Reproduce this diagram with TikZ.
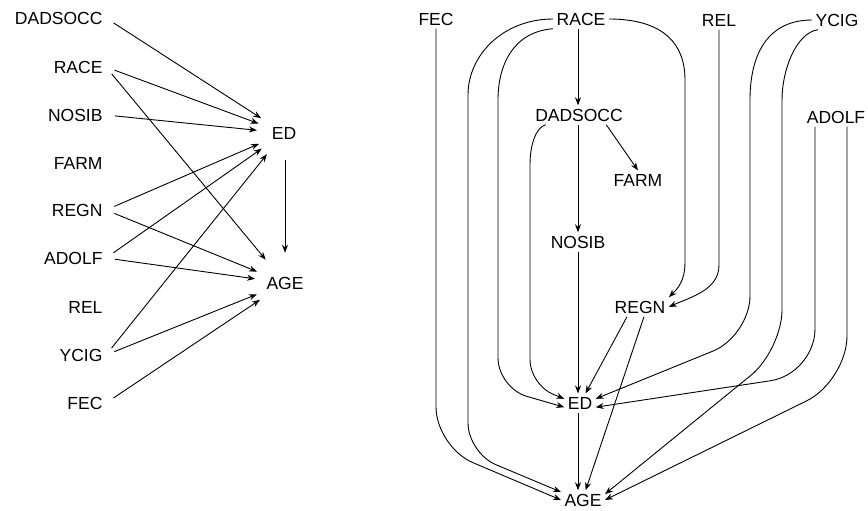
\documentclass[tikz,border=0pt]{standalone}
\usepackage{fontspec}
\setmainfont{Liberation Sans}
\usetikzlibrary{arrows.meta}

\begin{document}
\begin{tikzpicture}[x=1pt, y=-1pt, font=\fontsize{17.5}{21}\selectfont,
    ar/.style={-{Stealth[length=8pt, width=6pt]}, line width=0.9pt},
    lar/.style={ar, shorten <=9pt},
    var/.style={anchor=east},
    hub/.style={circle, inner sep=0pt, minimum size=#1}]
    \useasboundingbox (0,0) rectangle (868,511);
    % Modelo saturado (esquerda)
    \node[var] (lDADSOCC) at (106,18) {DADSOCC};
    \node[var] (lRACE) at (106,67) {RACE};
    \node[var] (lNOSIB) at (106,115) {NOSIB};
    \node[var] (lFARM) at (106,163) {FARM};
    \node[var] (lREGN) at (106,210) {REGN};
    \node[var] (lADOLF) at (106,258) {ADOLF};
    \node[var] (lREL) at (106,307) {REL};
    \node[var] (lYCIG) at (106,355) {YCIG};
    \node[var] (lFEC) at (106,403) {FEC};
    \node[hub=54pt] (lED) at (284,133) {ED};
    \node[hub=60pt] (lAGE) at (285,283) {AGE};
    \draw[lar] (lDADSOCC.east) -- (lED);
    \draw[lar] (lRACE.east) -- (lED);
    \draw[lar] (lRACE.east) -- (lAGE);
    \draw[lar] (lNOSIB.east) -- (lED);
    \draw[lar] (lREGN.east) -- (lED);
    \draw[lar] (lREGN.east) -- (lAGE);
    \draw[lar] (lADOLF.east) -- (lED);
    \draw[lar] (lADOLF.east) -- (lAGE);
    \draw[lar] (lYCIG.east) -- (lED);
    \draw[lar] (lYCIG.east) -- (lAGE);
    \draw[lar] (lFEC.east) -- (lAGE);
    \draw[ar] (lED.south -| lAGE) -- (lAGE);
    % Modelo recursivo (direita)
    \node (FEC) at (436,19) {FEC};
    \node (RACE) at (581,19) {RACE};
    \node (REL) at (719,20) {REL};
    \node (YCIG) at (837,20) {YCIG};
    \node (DADSOCC) at (579,115) {DADSOCC};
    \node (ADOLF) at (836,117) {ADOLF};
    \node (FARM) at (638,180) {FARM};
    \node (NOSIB) at (578,242) {NOSIB};
    \node (REGN) at (640,307) {REGN};
    \node (ED) at (580,403) {ED};
    \node (AGE) at (583,500) {AGE};
    \draw[ar] (NOSIB |- RACE.south) -- (NOSIB |- DADSOCC.north);
    \draw[ar] (NOSIB |- DADSOCC.south) -- (NOSIB.north);
    \draw[ar] (NOSIB.south) -- (NOSIB |- ED.north);
    \draw[ar] (NOSIB |- ED.south) -- (NOSIB |- AGE.north);
    \draw[ar] ([xshift=-20pt]DADSOCC.south east) -- (FARM.north);
    % pelo lado esquerdo
    \draw[ar, rounded corners=40pt] (FEC.south) -- (436,447) -- (AGE.west);
    \draw[ar] (RACE.west) .. controls +(-50,0) and +(0,-40) .. (468,95)
        [rounded corners=30pt] -- (468,453) -- (AGE.160);
    \draw[ar] (RACE.south west) .. controls +(-40,3) and +(0,-35) .. (498,100)
        [rounded corners=30pt] -- (498,388) -- (ED.195);
    \draw[ar] ([xshift=14pt]DADSOCC.south west) .. controls +(-10,3) and +(0,-20) .. (530,165)
        [rounded corners=25pt] -- (530,385) -- (ED.165);
    % pelo lado direito
    \draw[ar] (RACE.east) .. controls +(50,0) and +(0,-40) .. (685,80) -- (685,262)
        .. controls +(0,20) and +(8,-8) .. (REGN.north east);
    \draw[ar] (REL.south) -- (719,265) .. controls +(0,25) and +(22,-10) .. (REGN.east);
    \draw[ar] (YCIG.west) .. controls +(-45,0) and +(0,-45) .. (750,100)
        [rounded corners=40pt] -- (750,336) -- (ED.15);
    \draw[ar] ([xshift=6pt]YCIG.south west) .. controls +(-22,3) and +(0,-30) .. (782,100)
        [rounded corners=40pt] -- (782,350) -- (AGE.15);
    \draw[ar, rounded corners=45pt] ([xshift=-21pt]ADOLF.south) -- (815,374) -- (ED.-15);
    \draw[ar, rounded corners=45pt] ([xshift=11pt]ADOLF.south) -- (847,381) -- (AGE.east);
    \draw[ar] ([xshift=-13pt]REGN.south) -- (ED.60);
    \draw[ar] ([xshift=4pt]REGN.south) -- (AGE.75);
\end{tikzpicture}
\end{document}
